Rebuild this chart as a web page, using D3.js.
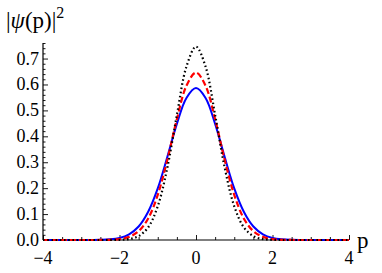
<html>
<head>
<style type="text/css">
  body { margin: 0; background: white; }
  .curve { fill: none; }
</style>
</head>
<body>
<svg id="viewport" width="382" height="273"></svg>
<script src="https://cdn.jsdelivr.net/npm/d3@7/dist/d3.min.js"></script>
<script>
  // DATA
  var pValues = [-4, -3.75, -3.5, -3.25, -3, -2.75, -2.5, -2.25, -2, -1.75, -1.5, -1.25, -1, -0.75, -0.5, -0.25,
    0, 0.25, 0.5, 0.75, 1, 1.25, 1.5, 1.75, 2, 2.25, 2.5, 2.75, 3, 3.25, 3.5, 3.75, 4];
  var blueSolid = [0, 0, 0, 0, 0, 0.0002, 0.0007, 0.0025, 0.008, 0.022, 0.052, 0.109, 0.199, 0.320, 0.448, 0.548,
    0.586, 0.548, 0.448, 0.320, 0.199, 0.109, 0.052, 0.022, 0.008, 0.0025, 0.0007, 0.0002, 0, 0, 0, 0, 0];
  var redDashed = [0, 0, 0, 0, 0, 0, 0.0002, 0.0008, 0.0034, 0.012, 0.034, 0.083, 0.174, 0.309, 0.466, 0.595,
    0.646, 0.595, 0.466, 0.309, 0.174, 0.083, 0.034, 0.012, 0.0034, 0.0008, 0.0002, 0, 0, 0, 0, 0, 0];
  var blackDotted = [0, 0, 0, 0, 0, 0, 0, 0.0001, 0.0007, 0.0035, 0.015, 0.049, 0.130, 0.279, 0.482, 0.669,
    0.746, 0.669, 0.482, 0.279, 0.130, 0.049, 0.015, 0.0035, 0.0007, 0.0001, 0, 0, 0, 0, 0, 0, 0];
  var xMajor = [-4, -2, 0, 2, 4];
  var xLabels = ["\u22124", "\u22122", "0", "2", "4"];
  var yMajor = [0, 0.1, 0.2, 0.3, 0.4, 0.5, 0.6, 0.7];
  var yLabels = ["0.0", "0.1", "0.2", "0.3", "0.4", "0.5", "0.6", "0.7"];

  var serif = "'Liberation Serif', 'DejaVu Serif', serif";
  var svg = d3.select("svg");

  var x = d3.scaleLinear().domain([-4, 4]).range([43, 349]);
  var y = d3.scaleLinear().domain([0, 0.76]).range([240, 43]);

  // axes (Mathematica style, ticks pointing inward)
  var xAxis = d3.axisTop(x)
    .tickValues(d3.range(-4, 4.001, 0.5))
    .tickSize(3)
    .tickFormat("");
  var xAxisG = svg.append("g")
    .attr("transform", "translate(0," + y(0) + ")")
    .call(xAxis);
  xAxisG.selectAll(".tick line")
    .filter(function(d) { return xMajor.indexOf(Math.round(d * 100) / 100) >= 0; })
    .attr("y2", -5);

  var yAxis = d3.axisRight(y)
    .tickValues(d3.range(0, 0.761, 0.02))
    .tickSize(2.5)
    .tickFormat("");
  var yAxisG = svg.append("g")
    .attr("transform", "translate(" + x(-4) + ",0)")
    .call(yAxis);
  yAxisG.selectAll(".tick line")
    .filter(function(d) { return yMajor.indexOf(Math.round(d * 100) / 100) >= 0; })
    .attr("x2", 5);

  svg.selectAll(".domain").remove();
  svg.selectAll(".tick line").attr("stroke", "black").attr("stroke-width", 0.9);

  svg.append("line")
    .attr("x1", x(-4)).attr("x2", x(4))
    .attr("y1", y(0)).attr("y2", y(0))
    .attr("stroke", "black").attr("stroke-width", 1.2);
  svg.append("line")
    .attr("x1", x(-4)).attr("x2", x(-4))
    .attr("y1", y(0)).attr("y2", y(0.76))
    .attr("stroke", "black").attr("stroke-width", 1.2);

  // tick labels
  svg.selectAll(".xlab")
    .data(xMajor)
    .enter()
    .append("text")
    .attr("class", "xlab")
    .attr("x", function(d) { return x(d); })
    .attr("y", 264)
    .attr("text-anchor", "middle")
    .attr("font-family", serif)
    .attr("font-size", 18)
    .text(function(d, i) { return xLabels[i]; });

  svg.selectAll(".ylab")
    .data(yMajor)
    .enter()
    .append("text")
    .attr("class", "ylab")
    .attr("x", 39)
    .attr("y", function(d) { return y(d) + 6; })
    .attr("text-anchor", "end")
    .attr("font-family", serif)
    .attr("font-size", 18)
    .text(function(d, i) { return yLabels[i]; });

  // axis labels
  svg.append("text")
    .attr("x", 357)
    .attr("y", 248)
    .attr("font-family", serif)
    .attr("font-size", 23)
    .text("p");

  var title = svg.append("text")
    .attr("x", 6)
    .attr("y", 28)
    .attr("font-family", serif)
    .attr("font-size", 23);
  title.append("tspan").text("|");
  title.append("tspan").attr("font-style", "italic").text("\u03c8");
  title.append("tspan").text("(p)|");
  title.append("tspan").attr("dy", -10).attr("font-size", 16).text("2");

  // curves
  var line = d3.line()
    .x(function(d) { return x(d[0]); })
    .y(function(d) { return y(d[1]); })
    .curve(d3.curveCatmullRom.alpha(0.5));

  var series = [
    { values: blueSolid, color: "#0000ff", dash: null, width: 2 },
    { values: redDashed, color: "#ff0000", dash: "6,3", width: 2.2 },
    { values: blackDotted, color: "black", dash: "1.6,2.6", width: 2.2 }
  ];

  svg.selectAll(".curve")
    .data(series)
    .enter()
    .append("path")
    .attr("class", "curve")
    .attr("d", function(s) {
      return line(pValues.map(function(p, i) { return [p, s.values[i]]; }));
    })
    .attr("stroke", function(s) { return s.color; })
    .attr("stroke-width", function(s) { return s.width; })
    .attr("stroke-dasharray", function(s) { return s.dash; });
</script>
</body>
</html>
